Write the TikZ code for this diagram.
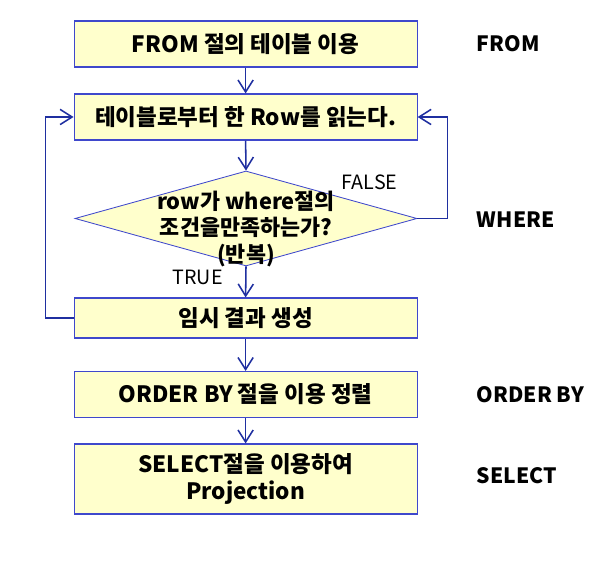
\documentclass[tikz,border=0pt]{standalone}
\usepackage{fontspec}
\setmainfont{Noto Sans CJK KR}
\usepackage{xcolor}
\usetikzlibrary{positioning,shapes.geometric,arrows.meta}
\definecolor{boxfill}{HTML}{FFFFCC}
\definecolor{boxline}{HTML}{3F48CC}
\definecolor{flowline}{HTML}{1F2FA0}

\begin{document}
\begin{tikzpicture}[
  every node/.style={font=\fontsize{14}{18.4}\selectfont},
  stepbox/.style={draw=boxline, line width=0.8pt, fill=boxfill,
                  minimum width=8.575cm, minimum height=1.15cm, align=center,
                  font=\fontsize{16}{19}\selectfont\bfseries},
  decision/.style={draw=boxline, line width=0.6pt, fill=boxfill, diamond,
                   minimum width=8.55cm, minimum height=2.375cm, inner sep=0pt},
  clause/.style={anchor=west, font=\fontsize{15}{18.4}\selectfont\bfseries},
  flow/.style={draw=flowline, line width=1.1pt},
  arr/.style ={flow, -{Straight Barb[length=3mm, width=3.8mm]}}
]
\useasboundingbox (0,0) rectangle (15.05,14.3);

%% ---- Processing steps ---------------------------------------------
\node[stepbox] (FROM)  at (6.14,13.2)   {FROM 절의 테이블 이용};
\node[stepbox] (READ)  at (6.14,11.375) {테이블로부터 한 Row를 읽는다.};
\node[decision] (COND) at (6.15,8.8375) {};
\node[font=\fontsize{15.5}{18.6}\selectfont\bfseries, align=center]
      (CONDTXT) at (6.15,8.575) {row가 where절의\\조건을만족하는가?\\(반복)};
\node[stepbox, minimum height=1.0cm]  (TEMP)  at (6.14,6.35)   {임시 결과 생성};
\node[stepbox] (ORDER) at (6.14,4.4375) {ORDER BY 절을 이용 정렬};
\node[stepbox, minimum height=1.75cm] (SEL)   at (6.14,2.325)
      {SELECT절을 이용하여\\Projection};

%% ---- Clause names -------------------------------------------------
\node[clause] (LFROM)  at (11.8,13.2)  {FROM};
\node[clause] (LWHERE) at (11.8,8.8)   {WHERE};
\node[clause] (LORDER) at (11.8,4.425) {ORDER BY};
\node[clause] (LSEL)   at (11.8,2.4)   {SELECT};

%% ---- Connections --------------------------------------------------
\draw[arr] (FROM.south) -- (READ.north);
\draw[arr] (READ.south) -- (COND.north);
\draw[arr] (COND.south) -- (TEMP.north);
\draw[arr] (TEMP.south) -- (ORDER.north);
\draw[arr] (ORDER.south) -- (SEL.north);

% loop back for the next row
\draw[arr] (TEMP.west) -- ++(-0.7,0) |- (READ.west);
\draw[arr] (COND.east) -- ++(0.75,0) |- (READ.east);

%% ---- Branch labels ------------------------------------------------
\node (FALSE) at (9.24,9.75)  {FALSE};
\node (TRUE)  at (4.94,7.36)  {TRUE};

\end{tikzpicture}
\end{document}
